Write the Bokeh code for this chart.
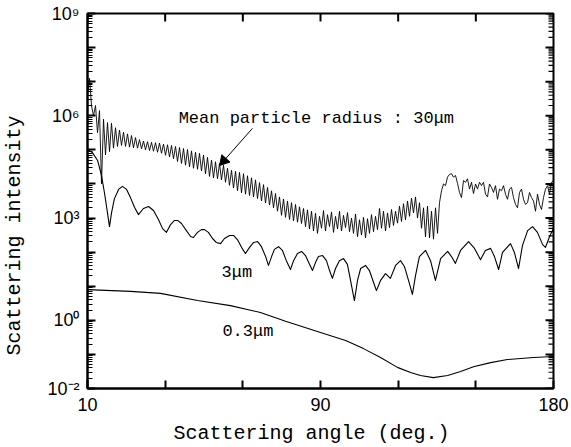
import numpy as np
from bokeh.plotting import figure
from bokeh.models import Range1d, FixedTicker, Label, Title
from bokeh.embed import file_html
from bokeh.resources import INLINE

# ---------------- data ----------------
# log10 of scattering intensity, mean particle radius 30 um (regular angle grid 0..180)
log_i_30um = [
    6.6, 7.1, 6.3, 6.0, 6.3, 5.5, 6.15, 4.0, 5.9,
    4.85, 5.80, 4.95, 5.78, 5.05, 5.65, 5.10, 5.58, 5.13, 5.52,
    5.10, 5.47, 5.08, 5.42, 5.06, 5.36, 5.05, 5.30, 5.03, 5.26,
    5.00, 5.24, 4.98, 5.22, 4.96, 5.21, 4.93, 5.20, 4.90, 5.17,
    4.84, 5.15, 4.79, 5.13, 4.74, 5.10, 4.66, 5.07, 4.60, 5.04,
    4.55, 5.01, 4.50, 4.97, 4.46, 4.93, 4.43, 4.90, 4.38, 4.85,
    4.30, 4.78, 4.22, 4.70, 4.18, 4.65, 4.15, 4.60, 4.12, 4.55,
    4.05, 4.46, 3.96, 4.40, 3.88, 4.37, 3.80, 4.34, 3.74, 4.30,
    3.70, 4.24, 3.66, 4.18, 3.62, 4.12, 3.57, 4.04, 3.50, 3.98,
    3.44, 3.90, 3.38, 3.80, 3.30, 3.72, 3.20, 3.62, 3.08, 3.56,
    3.02, 3.50, 2.96, 3.45, 2.92, 3.40, 2.88, 3.33, 2.84, 3.28,
    2.75, 3.24, 2.68, 3.20, 2.62, 3.14,
    2.55, 3.05, 2.70, 3.22, 2.62, 3.10, 2.75, 3.18, 2.58, 3.05,
    2.68, 3.20, 2.62, 3.08, 2.72, 3.16, 2.60, 3.00, 2.55, 3.12,
    2.45, 2.95, 2.50, 3.02, 2.42, 2.98, 2.55, 3.10, 2.60, 3.05,
    2.66, 3.28, 2.70, 3.20, 2.62, 3.15, 2.72, 3.25, 2.78, 3.20,
    2.85, 3.35, 2.90, 3.42, 2.95, 3.50, 3.05, 3.58, 3.15, 3.62,
    3.00, 3.45, 2.70, 3.30, 2.45, 3.35, 2.42, 3.20, 2.38, 3.30,
    2.55, 3.45, 3.80, 4.00, 3.95, 4.20, 4.28, 4.30, 4.20, 4.25,
    4.02, 3.75, 3.60, 4.10, 4.05, 4.15, 3.85, 4.05, 3.72, 4.00,
    3.85, 4.05, 3.95, 4.05, 3.70, 3.62, 4.00, 3.90, 3.75, 3.95,
    3.55, 3.85, 3.80, 3.95, 3.70, 3.55, 3.85, 3.90, 3.60, 3.40,
    3.30, 3.75, 3.85, 3.55, 3.40, 3.45, 3.75, 3.60, 3.50, 3.20,
    3.70, 3.40, 3.25, 3.60, 3.85, 3.95, 3.70, 4.05, 4.10,
]
angle_30um = np.linspace(0, 180, len(log_i_30um))

# mean particle radius 3 um
angle_3um = [
    0, 1.9, 3.9, 5.4, 6.6, 7.7, 8.5, 9.3, 10.4, 12.0,
    13.5, 15.1, 16.6, 18.2, 19.7, 21.6, 23.6, 25.5, 27.4, 29.0,
    30.5, 32.1, 33.6, 34.8, 36.3, 38.2, 39.8, 40.9, 42.5, 44.0,
    45.2, 46.7, 48.3, 49.8, 51.4, 52.9, 54.9, 56.4, 57.9, 59.5,
    61.0, 62.6, 64.1, 65.7, 67.2, 68.8, 69.9, 71.1, 72.2, 73.8,
    75.3, 76.9, 78.4, 79.6, 81.1, 82.7, 84.2, 85.8, 86.9, 88.1,
    89.2, 90.8, 92.3, 93.5, 94.6, 95.8, 97.3, 98.9, 100.4, 101.6,
    103.1, 104.3, 105.5, 107.4, 108.9, 110.5, 111.6, 113.2, 115.1, 117.0,
    119.0, 120.9, 122.4, 124.0, 125.5, 126.7, 128.2, 130.6, 132.5, 134.4,
    136.4, 139.1, 140.6, 142.1, 144.1, 147.2, 149.5, 151.8, 153.7, 155.7,
    157.2, 158.8, 160.3, 163.4, 164.9, 166.5, 168.0, 170.0, 171.9, 173.8,
    175.8, 176.9, 178.5, 180.0,
]
log_i_3um = [
    5.01, 4.92, 4.69, 4.25, 3.72, 3.16, 2.75, 3.16, 3.57, 3.84,
    3.93, 3.84, 3.60, 3.31, 3.10, 3.28, 3.34, 3.22, 2.96, 2.69,
    2.58, 2.81, 2.93, 2.93, 2.84, 2.63, 2.46, 2.43, 2.58, 2.66,
    2.66, 2.58, 2.40, 2.28, 2.25, 2.40, 2.49, 2.49, 2.37, 2.14,
    1.96, 2.14, 2.28, 2.31, 2.16, 1.87, 1.61, 1.87, 2.08, 2.16,
    2.05, 1.73, 1.49, 1.75, 1.96, 2.02, 1.90, 1.64, 1.46, 1.70,
    1.87, 1.90, 1.75, 1.46, 1.23, 1.52, 1.75, 1.81, 1.64, 1.17,
    0.58, 1.17, 1.52, 1.61, 1.46, 1.11, 0.87, 1.17, 1.37, 1.23,
    1.61, 1.75, 1.58, 1.17, 0.76, 1.31, 1.87, 2.05, 1.75, 1.17,
    1.81, 2.02, 1.87, 1.67, 2.05, 2.31, 2.11, 1.78, 2.05, 2.11,
    1.87, 1.49, 1.99, 2.25, 1.99, 1.52, 2.19, 2.63, 2.75, 2.58,
    2.22, 2.14, 2.46, 2.69,
]

# mean particle radius 0.3 um
angle_03um = [0, 16.6, 28.2, 42.5, 55.2, 66.8, 76.5, 90.0, 99.7, 106.6, 113.2,
              119.7, 124.8, 128.6, 133.6, 139.1, 144.1, 149.1, 155.7, 162.2, 172.3, 180.0]
log_i_03um = [0.90, 0.85, 0.79, 0.58, 0.43, 0.23, -0.03, -0.36, -0.59, -0.83, -1.09,
              -1.38, -1.53, -1.62, -1.68, -1.62, -1.50, -1.36, -1.24, -1.15, -1.09, -1.06]

x_tick_values = [0, 30, 60, 90, 120, 150, 180]
x_tick_labels = ["10", " ", " ", "90", " ", " ", "180"]
y_tick_values = [1e-2, 1e-1, 1e0, 1e1, 1e2, 1e3, 1e4, 1e5, 1e6, 1e7, 1e8, 1e9]
y_tick_labels = ["10\u207b\u00b2", " ", "10\u2070", " ", " ", "10\u00b3", " ", " ",
                 "10\u2076", " ", " ", "10\u2079"]

# ---------------- figure ----------------
X0, X1 = 0.0, 180.0
Y0, Y1 = 1e-2, 1e9
FRAME_W, FRAME_H = 466, 375

p = figure(width=571, height=447, output_backend="svg", toolbar_location=None,
           x_range=Range1d(X0, X1), y_range=Range1d(Y0, Y1), y_axis_type="log",
           min_border_left=87, min_border_right=18, min_border_top=13, min_border_bottom=59)
p.grid.visible = False
p.outline_line_color = "black"
p.outline_line_width = 2

y_minor = [m * d for d in y_tick_values[:-1] for m in range(2, 10)]

bottom = p.below[0]
left = p.left[0]
bottom.ticker = FixedTicker(ticks=x_tick_values)
left.ticker = FixedTicker(ticks=y_tick_values, minor_ticks=y_minor)
for ax in [bottom, left]:
    ax.axis_line_width = 2
    ax.axis_line_color = "black"
    ax.major_tick_in = 8
    ax.major_tick_out = 0
    ax.major_tick_line_width = 2
    ax.major_tick_line_color = "black"
    ax.major_label_text_font = "Liberation Sans"
    ax.major_label_text_font_size = "18px"
    ax.major_label_text_color = "black"
bottom.minor_tick_line_color = None
left.minor_tick_in = 5
left.minor_tick_out = 0
left.minor_tick_line_width = 1.2
left.minor_tick_line_color = "black"
bottom.major_label_overrides = {v: s for v, s in zip(x_tick_values, x_tick_labels)}
left.major_label_overrides = {v: s for v, s in zip(y_tick_values, y_tick_labels)}
bottom.major_label_standoff = 6
left.major_label_standoff = 8
# blank axis label only to leave a gap before the y title
left.axis_label = " "
left.axis_label_text_font_size = "12px"
left.axis_label_standoff = 2

# inward tick marks on the top and right frame edges (pixel lengths in data units)
dx_major = 8 * (X1 - X0) / FRAME_W
dx_minor = 5 * (X1 - X0) / FRAME_W
fy_major = 10 ** (8 * np.log10(Y1 / Y0) / FRAME_H)
xs = [float(v) for v in x_tick_values]
nx, ny, nm = len(xs), len(y_tick_values), len(y_minor)
p.segment(xs, [Y1] * nx, xs, [Y1 / fy_major] * nx, line_color="black", line_width=2)
p.segment([X1] * ny, y_tick_values, [X1 - dx_major] * ny, y_tick_values,
          line_color="black", line_width=2)
p.segment([X1] * nm, y_minor, [X1 - dx_minor] * nm, y_minor, line_color="black", line_width=1.2)

# curves
p.line(angle_30um, 10 ** np.array(log_i_30um), line_color="black", line_width=0.9)
p.line(angle_3um, 10 ** np.array(log_i_3um), line_color="black", line_width=1.1, line_join="round")
p.line(angle_03um, 10 ** np.array(log_i_03um), line_color="black", line_width=1.1, line_join="round")

# annotations
font = "Liberation Mono"
p.add_layout(Label(x=35.2, y=10 ** 5.92, text="Mean particle radius : 30\u03bcm",
                   text_font=font, text_font_size="17px", text_baseline="middle",
                   text_color="black"))
p.add_layout(Label(x=51.8, y=10 ** 1.40, text="3\u03bcm",
                   text_font=font, text_font_size="17px", text_baseline="middle",
                   text_color="black"))
p.add_layout(Label(x=52.1, y=10 ** -0.33, text="0.3\u03bcm",
                   text_font=font, text_font_size="17px", text_baseline="middle",
                   text_color="black"))
# pointer arrow: shaft plus a rotated triangle head
arrow_start = (63.7, 10 ** 5.63)
arrow_head = (52.65, 10 ** 4.68)
p.segment([arrow_start[0]], [arrow_start[1]], [arrow_head[0]], [arrow_head[1]],
          line_color="black", line_width=1)
p.scatter([arrow_head[0]], [arrow_head[1]], marker="triangle", size=11, angle=2.415,
          fill_color="black", line_color="black")

# axis titles
p.add_layout(Title(text="Scattering angle (deg.)", align="left", offset=86,
                   text_font=font, text_font_size="20px", text_font_style="normal",
                   text_color="black", standoff=4), "below")
p.add_layout(Title(text="Scattering intensity", align="left", offset=33,
                   text_font=font, text_font_size="20px", text_font_style="normal",
                   text_color="black", standoff=0), "left")

open("out.html", "w").write(file_html(p, INLINE))
